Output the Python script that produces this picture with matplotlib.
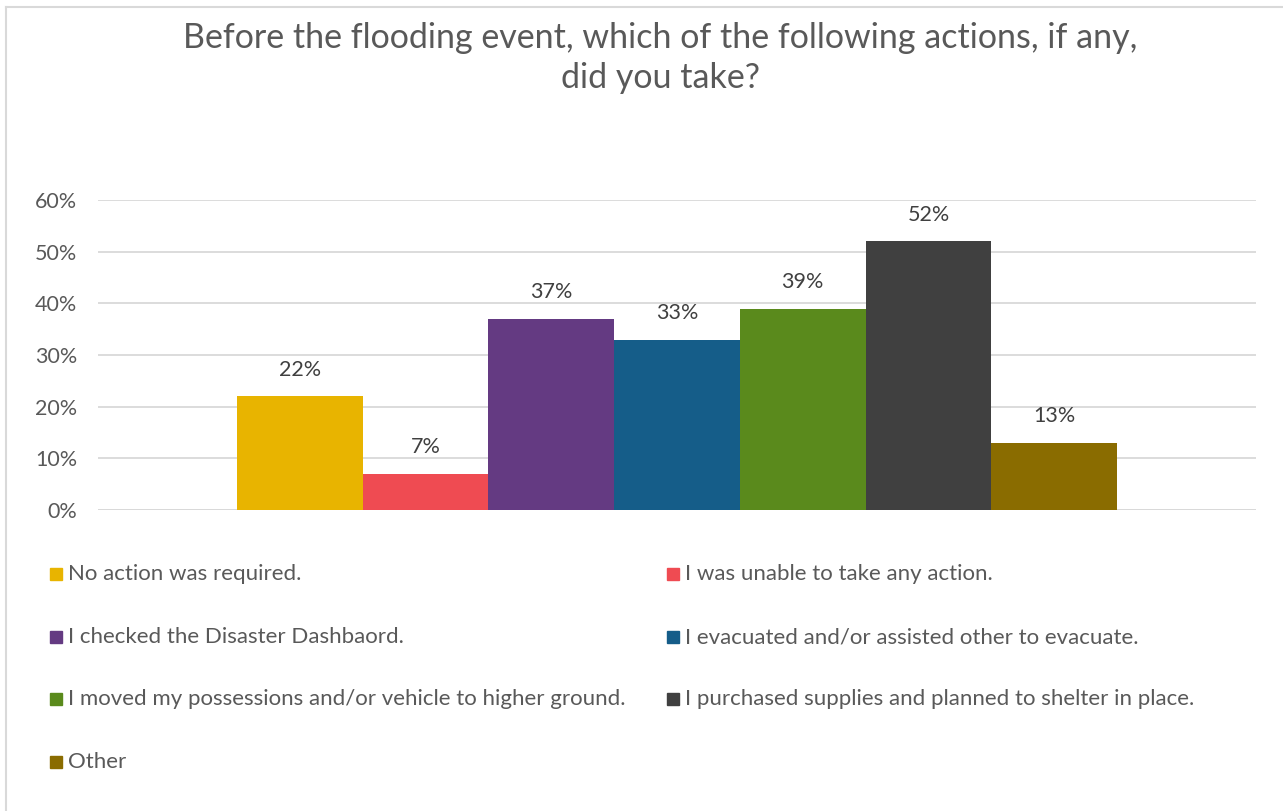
import matplotlib
matplotlib.use("Agg")
import matplotlib.pyplot as plt
from matplotlib.patches import Rectangle
from matplotlib.lines import Line2D

title = "Before the flooding event, which of the following actions, if any,\ndid you take?"
actions = [
    "No action was required.",
    "I was unable to take any action.",
    "I checked the Disaster Dashbaord.",
    "I evacuated and/or assisted other to evacuate.",
    "I moved my possessions and/or vehicle to higher ground.",
    "I purchased supplies and planned to shelter in place.",
    "Other",
]
shares = [22, 7, 37, 33, 39, 52, 13]
colors = ["#E8B400", "#EF4B52", "#643A82", "#155D89", "#5A8A1C", "#404040", "#8A6C00"]
yticks = [0, 10, 20, 30, 40, 50, 60]

plt.rcParams["font.family"] = ["Lato", "DejaVu Sans"]

W, H = 1283, 811
fig = plt.figure(figsize=(W / 100, H / 100), dpi=100)
fig.patch.set_facecolor("white")

# plot area
left, right, top, bottom = 98, 1256, 200, 510
ax = fig.add_axes([left / W, 1 - bottom / H, (right - left) / W, (bottom - top) / H])
n = len(shares)
xs = [i - (n - 1) / 2 for i in range(n)]
ax.bar(xs, shares, width=1.0, color=colors, zorder=2)
half = (right - left) / 2 / ((1118 - 238) / n)
ax.set_xlim(-half, half)
ax.set_ylim(0, 60)
ax.set_yticks(yticks)
ax.set_yticklabels([f"{t}%" for t in yticks], fontsize=15.5, color="#595959")
ax.set_xticks([])
ax.tick_params(axis="y", length=0, pad=15)
ax.grid(axis="y", color="#D9D9D9", linewidth=1.3, zorder=0)
for s in ax.spines.values():
    s.set_visible(False)
ax.axhline(0, color="#D9D9D9", linewidth=1.3, zorder=1)

for x, v in zip(xs, shares):
    ax.annotate(f"{v}%", (x, v), xytext=(0, 19), textcoords="offset points",
                ha="center", va="center", fontsize=15.5, color="#404040")

fig.text(660 / W, 1 - 58 / H, title, ha="center", va="center", fontsize=24.5,
         color="#595959", linespacing=1.3)

# legend, two columns filled row by row
col_x = [50, 667]
row_y = [574, 637, 699, 762]
sq = 12
for i, (lab, c) in enumerate(zip(actions, colors)):
    r, col = divmod(i, 2)
    x0, y0 = col_x[col], row_y[r]
    fig.patches.append(Rectangle((x0 / W, 1 - (y0 + sq / 2) / H), sq / W, sq / H,
                                 transform=fig.transFigure, color=c, figure=fig))
    fig.text((x0 + sq + 6) / W, 1 - y0 / H, lab, ha="left", va="center",
             fontsize=16, color="#595959")

# chart frame
fig.add_artist(Line2D([6 / W, 1], [1 - 7 / H, 1 - 7 / H], transform=fig.transFigure,
                      color="#D9D9D9", linewidth=1.5))
fig.add_artist(Line2D([6 / W, 6 / W], [0, 1 - 7 / H], transform=fig.transFigure,
                      color="#D9D9D9", linewidth=1.5))

fig.savefig("out.png", dpi=100, facecolor="white")
